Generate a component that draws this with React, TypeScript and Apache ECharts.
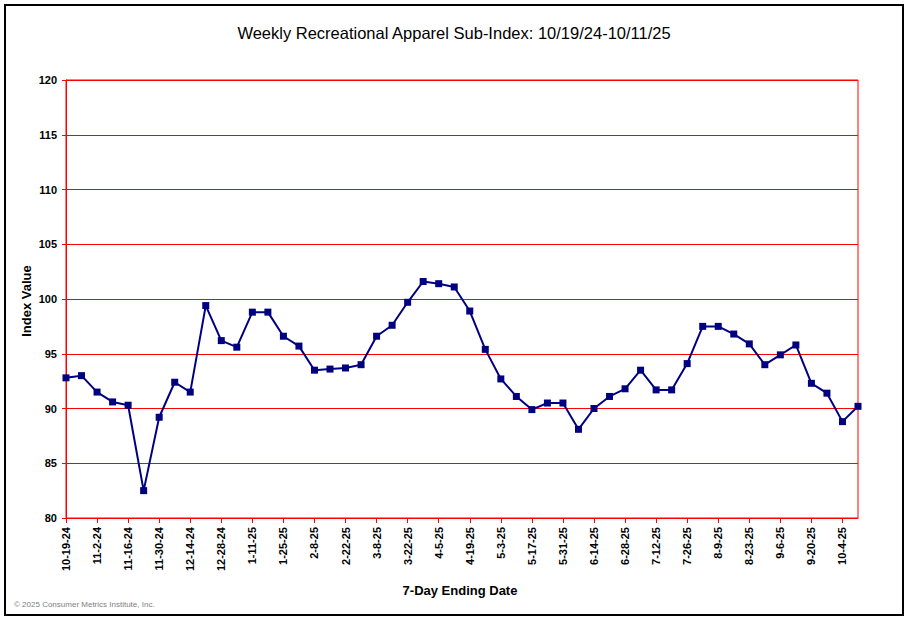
import React, { useEffect, useRef } from "react";
import * as echarts from "echarts";

const categories: string[] = [
  "10-19-24", "10-26-24", "11-2-24", "11-9-24", "11-16-24", "11-23-24",
  "11-30-24", "12-7-24", "12-14-24", "12-21-24", "12-28-24", "1-4-25",
  "1-11-25", "1-18-25", "1-25-25", "2-1-25", "2-8-25", "2-15-25",
  "2-22-25", "3-1-25", "3-8-25", "3-15-25", "3-22-25", "3-29-25",
  "4-5-25", "4-12-25", "4-19-25", "4-26-25", "5-3-25", "5-10-25",
  "5-17-25", "5-24-25", "5-31-25", "6-7-25", "6-14-25", "6-21-25",
  "6-28-25", "7-5-25", "7-12-25", "7-19-25", "7-26-25", "8-2-25",
  "8-9-25", "8-16-25", "8-23-25", "8-30-25", "9-6-25", "9-13-25",
  "9-20-25", "9-27-25", "10-4-25", "10-11-25",
];

const indexValues: number[] = [
  92.8, 93.0, 91.5, 90.6, 90.3, 82.5, 89.2, 92.4, 91.5, 99.4, 96.2, 95.6,
  98.8, 98.8, 96.6, 95.7, 93.5, 93.6, 93.7, 94.0, 96.6, 97.6, 99.7, 101.6,
  101.4, 101.1, 98.9, 95.4, 92.7, 91.1, 89.9, 90.5, 90.5, 88.1, 90.0, 91.1,
  91.8, 93.5, 91.7, 91.7, 94.1, 97.5, 97.5, 96.8, 95.9, 94.0, 94.9, 95.8,
  92.3, 91.4, 88.8, 90.2,
];

const yMin = 80;
const yMax = 120;
const yStep = 5;

const titleText = "Weekly Recreational Apparel Sub-Index: 10/19/24-10/11/25";
const xAxisTitle = "7-Day Ending Date";
const yAxisTitle = "Index Value";
const copyrightText = "© 2025 Consumer Metrics Institute, Inc.";

const FONT = "Liberation Sans, Arial, Helvetica, sans-serif";

export default function App() {
  const ref = useRef<HTMLDivElement>(null);

  useEffect(() => {
    if (!ref.current) return;
    const chart = echarts.init(ref.current, undefined, { renderer: "svg", width: 909, height: 621 });
    chart.setOption({
      animation: false,
      backgroundColor: "#ffffff",
      textStyle: { fontFamily: FONT },
      title: {
        text: titleText,
        left: 449,
        top: 19,
        textAlign: "center",
        textStyle: { fontSize: 16.5, fontWeight: "normal", color: "#000000", fontFamily: FONT },
      },
      grid: {
        left: 66,
        top: 80,
        right: 51,
        bottom: 103,
        show: true,
        borderColor: "#ff0000",
        borderWidth: 1,
        backgroundColor: "#ffffff",
        containLabel: false,
      },
      xAxis: {
        type: "category",
        data: categories,
        boundaryGap: false,
        axisLine: { show: true, lineStyle: { color: "#ff0000", width: 1 } },
        axisTick: { show: true, interval: 1, length: 5, lineStyle: { color: "#ff0000" } },
        axisLabel: {
          interval: 1,
          rotate: 90,
          margin: 9,
          fontSize: 11,
          fontWeight: "bold",
          color: "#000000",
          fontFamily: FONT,
        },
        splitLine: { show: false },
      },
      yAxis: {
        type: "value",
        min: yMin,
        max: yMax,
        interval: yStep,
        axisLine: { show: true, lineStyle: { color: "#ff0000", width: 1 } },
        axisTick: { show: true, length: 4, lineStyle: { color: "#ff0000" } },
        axisLabel: {
          margin: 9,
          fontSize: 11,
          fontWeight: "bold",
          color: "#000000",
          fontFamily: FONT,
        },
        splitLine: { show: true, lineStyle: { color: "#ff0000", width: 1 } },
      },
      series: [
        {
          type: "line",
          data: indexValues,
          symbol: "rect",
          symbolSize: 7,
          showAllSymbol: true,
          lineStyle: { color: "#000080", width: 2 },
          itemStyle: { color: "#000080", borderWidth: 0 },
          emphasis: { disabled: true },
        },
      ],
      graphic: [
        {
          type: "rect",
          shape: { x: 5, y: 5, width: 898, height: 610 },
          style: { fill: "none", stroke: "#000000", lineWidth: 2 },
          silent: true,
          z: 100,
        },
        {
          type: "text",
          x: 460,
          y: 590,
          style: {
            text: xAxisTitle,
            fill: "#000000",
            font: `bold 13px ${FONT}`,
            align: "center",
            verticalAlign: "middle",
          },
        },
        {
          type: "text",
          x: 26,
          y: 301,
          rotation: Math.PI / 2,
          style: {
            text: yAxisTitle,
            fill: "#000000",
            font: `bold 13px ${FONT}`,
            align: "center",
            verticalAlign: "middle",
          },
        },
        {
          type: "text",
          x: 14,
          y: 604,
          style: {
            text: copyrightText,
            fill: "#808080",
            font: `8px ${FONT}`,
            align: "left",
            verticalAlign: "middle",
          },
        },
      ],
    });
    return () => chart.dispose();
  }, []);

  return (
    <div
      ref={ref}
      style={{ position: "fixed", left: 0, top: 0, width: 909, height: 621, background: "#ffffff" }}
    />
  );
}
